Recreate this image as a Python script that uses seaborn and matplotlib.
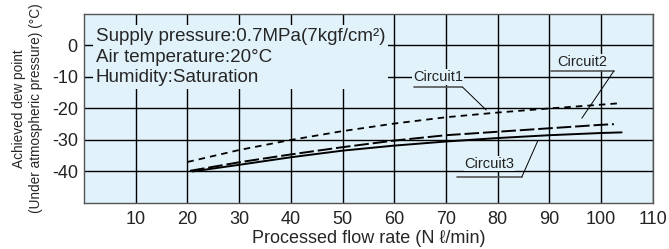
import pandas as pd
import matplotlib
matplotlib.use("Agg")
import matplotlib.pyplot as plt
import seaborn as sns

sns.set_style("white")
plt.rcParams["font.family"] = ["Liberation Sans", "DejaVu Sans"]

# =========================
# DATA
# =========================
c1_x = [20, 30, 40, 50, 60, 70, 80, 90, 100, 104]
c1_y = [-37.0, -33.2, -30.0, -27.2, -24.8, -22.8, -21.3, -20.0, -18.8, -18.3]

c2_x = [20.5, 30, 40, 50, 60, 70, 80, 90, 100, 102.5]
c2_y = [-39.8, -37.1, -34.6, -32.3, -30.2, -28.5, -27.4, -26.3, -25.2, -25.0]

c3_x = [21, 30, 40, 50, 60, 70, 80, 90, 100, 104]
c3_y = [-40.0, -37.9, -35.5, -33.4, -31.8, -30.5, -29.4, -28.5, -27.8, -27.6]

x_ticks = [10, 20, 30, 40, 50, 60, 70, 80, 90, 100, 110]
y_ticks = [0, -10, -20, -30, -40]

conditions = ["Supply pressure:0.7MPa(7kgf/cm\u00b2)",
              "Air temperature:20\u00b0C",
              "Humidity:Saturation"]

bg = "#e1f2fa"

# =========================
# PLOT
# =========================
fig = plt.figure(figsize=(6.69, 2.49), dpi=100)
ax = fig.add_axes([0.1256, 0.185, 0.850, 0.759])
ax.set_facecolor(bg)

df1 = pd.DataFrame({"flow": c1_x, "dew": c1_y})
df2 = pd.DataFrame({"flow": c2_x, "dew": c2_y})
df3 = pd.DataFrame({"flow": c3_x, "dew": c3_y})

sns.lineplot(data=df1, x="flow", y="dew", ax=ax, color="black", lw=1.3,
             linestyle=(0, (3.6, 2.8)))
sns.lineplot(data=df2, x="flow", y="dew", ax=ax, color="black", lw=1.4,
             linestyle=(0, (7.5, 2.0)))
sns.lineplot(data=df3, x="flow", y="dew", ax=ax, color="black", lw=1.4)

ax.set_xlim(0, 110)
ax.set_ylim(-50, 10)
ax.set_xticks(x_ticks)
ax.set_yticks(y_ticks)
ax.set_xticklabels([str(t) for t in x_ticks], fontsize=13)
ax.set_yticklabels([str(t) for t in y_ticks], fontsize=13)
ax.tick_params(axis="both", direction="out", length=3, width=0.8, colors="#222222")
ax.tick_params(axis="x", length=0, pad=6)
ax.tick_params(axis="y", pad=1.5)

ax.set_axisbelow(True)
ax.grid(True, color="black", lw=1.0)
for s in ax.spines.values():
    s.set_color("#555555")
    s.set_linewidth(1.0)

ax.set_xlabel("Processed flow rate (N \u2113/min)", fontsize=13, labelpad=1)
ax.set_ylabel("Achieved dew point\n(Under atmospheric pressure) (\u00b0C)",
              fontsize=9.8, labelpad=6, linespacing=1.3)

# conditions box
ax.text(0.021, 0.925, "\n".join(conditions), transform=ax.transAxes,
        fontsize=13.5, va="top", ha="left", linespacing=1.27, zorder=4,
        bbox=dict(facecolor=bg, edgecolor="none", pad=2))

# circuit labels with underline and leader line
labels = [
    ("Circuit1", 68.5, -10.0, 63.8, 73.2, -13.2, 77.8, -20.5),
    ("Circuit2", 96.3, -5.3, 90.3, 102.5, -8.1, 96.3, -23.1),
    ("Circuit3", 78.4, -37.5, 72.2, 84.7, -41.7, 87.8, -30.2),
]
for name, tx, ty, ux0, ux1, uy, lx, ly in labels:
    ax.text(tx, ty, name, fontsize=10.5, ha="center", va="center", zorder=4,
            color="#222222",
            bbox=dict(facecolor=bg, edgecolor="none", pad=0.5))
    ax.plot([ux0, ux1], [uy, uy], color="#555555", lw=1.2, zorder=5)
    ax.plot([ux1, lx], [uy, ly], color="black", lw=0.7, zorder=5)

fig.savefig("out.png", dpi=100)
